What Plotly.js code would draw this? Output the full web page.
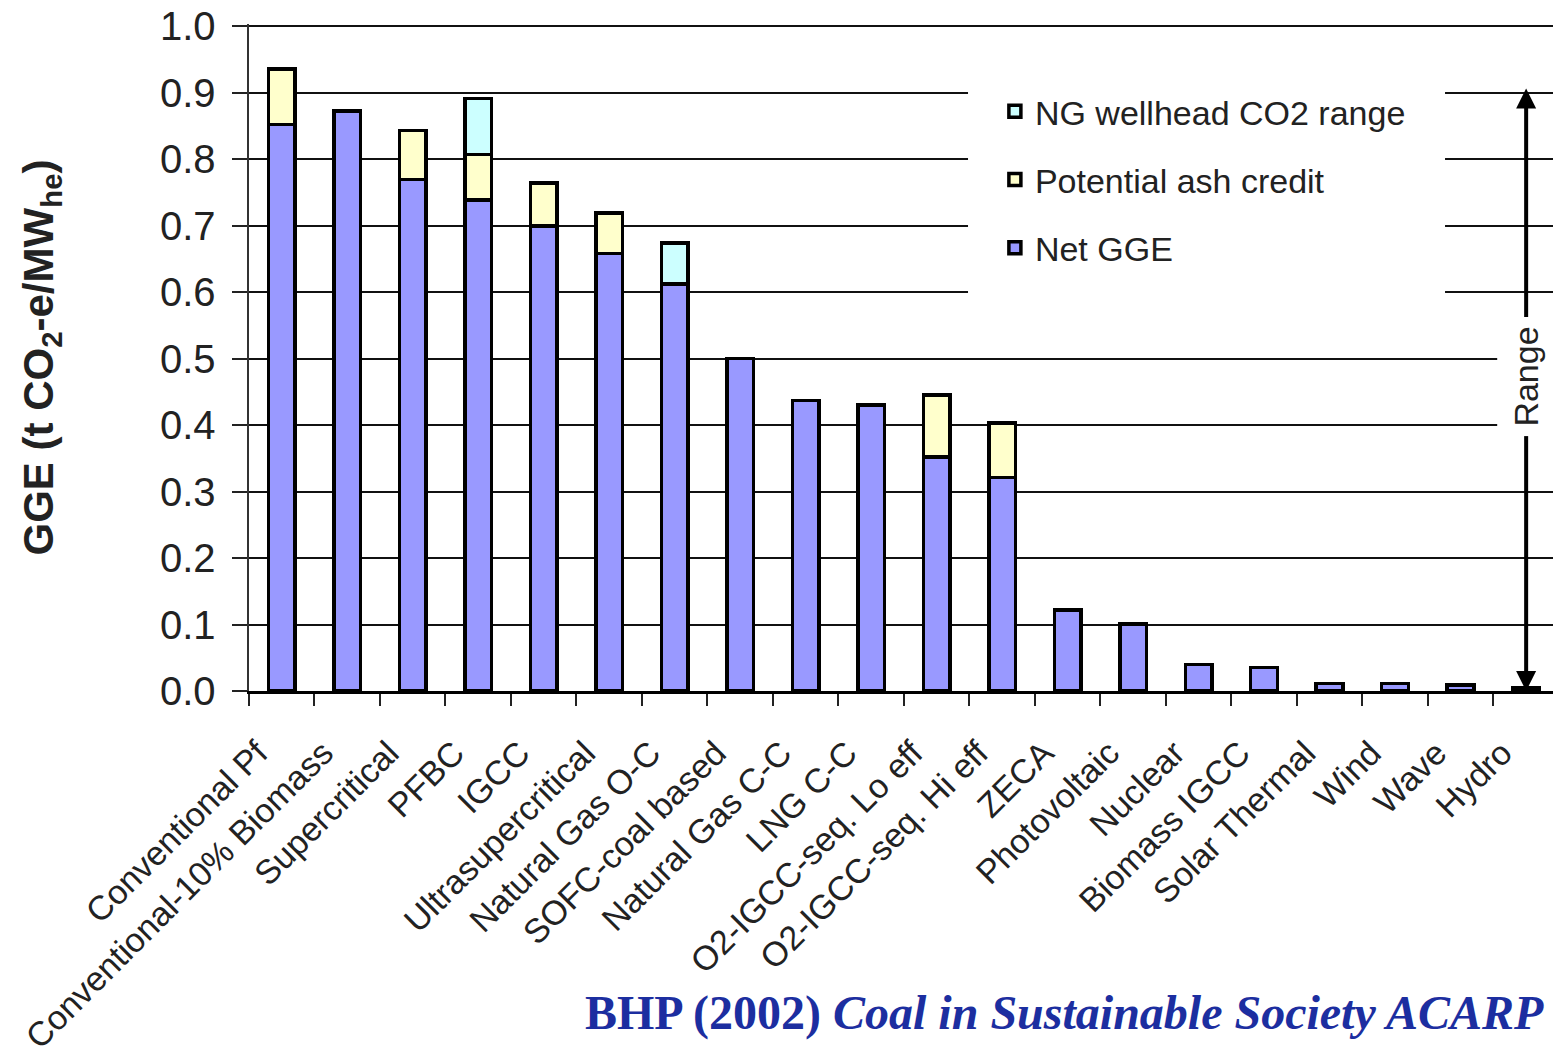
<!DOCTYPE html>
<html>
<head>
<meta charset="utf-8">
<script src="https://cdn.plot.ly/plotly-3.0.1.min.js"></script>
<style>html,body{margin:0;padding:0;background:#fff;}#chart{width:1553px;height:1055px;}</style>
</head>
<body>
<div id="chart"></div>
<script>
const categories = ["Conventional Pf","Conventional-10% Biomass","Supercritical","PFBC","IGCC","Ultrasupercritical","Natural Gas O-C","SOFC-coal based","Natural Gas C-C","LNG C-C","O2-IGCC-seq. Lo eff","O2-IGCC-seq. Hi eff","ZECA","Photovoltaic","Nuclear","Biomass IGCC","Solar Thermal","Wind","Wave","Hydro"];
const netGGE = [0.852,0.872,0.769,0.738,0.699,0.658,0.612,0.500,0.437,0.430,0.352,0.321,0.122,0.101,0.040,0.035,0.011,0.011,0.009,0.005];
const ashCredit = [0.083,null,0.074,0.069,0.065,0.061,null,null,null,null,0.093,0.082,null,null,null,null,null,null,null,null];
const ngRange = [null,null,null,0.084,null,null,0.062,null,null,null,null,null,null,null,null,null,null,null,null,null];
const yTicks = [0,0.1,0.2,0.3,0.4,0.5,0.6,0.7,0.8,0.9,1.0];
const yTickText = ["0.0","0.1","0.2","0.3","0.4","0.5","0.6","0.7","0.8","0.9","1.0"];
const rangeTop = 0.906, rangeMid = 0.473;

const FONT = "Liberation Sans, Arial, sans-serif";
const line = {color:"#000", width:3.5};
const traces = [
  {type:"bar", name:"Net GGE", x:categories, y:netGGE, marker:{color:"#9999ff", line:line}, width:0.41, legendgroup:"a", legendrank:3},
  {type:"bar", name:"Potential ash credit", x:categories, y:ashCredit, marker:{color:"#ffffcc", line:line}, width:0.41, legendgroup:"b", legendrank:2},
  {type:"bar", name:"NG wellhead CO2 range", x:categories, y:ngRange, marker:{color:"#ccffff", line:line}, width:0.41, legendgroup:"c", legendrank:1}
];
const layout = {
  width:1553, height:1055,
  margin:{l:249, r:0, t:24, b:364},
  paper_bgcolor:"#fff", plot_bgcolor:"#fff",
  barmode:"stack",
  showlegend:true,
  font:{family:FONT, color:"#222"},
  xaxis:{
    type:"category", range:[-0.5,19.41], fixedrange:true,
    showline:true, linecolor:"#000", linewidth:2.5,
    ticks:"outside", tickson:"boundaries", ticklen:12, tickwidth:2, tickcolor:"#222",
    tickangle:-45, tickfont:{size:34, family:FONT, color:"#222"},
    ticklabelstandoff:26, ticklabelshift:-24,
    showgrid:false
  },
  yaxis:{
    range:[0,1.003], fixedrange:true,
    tickmode:"array", tickvals:yTicks, ticktext:yTickText,
    ticks:"outside", ticklen:15, tickwidth:2, tickcolor:"#222",
    tickfont:{size:40, family:FONT, color:"#222"},
    ticklabelstandoff:8,
    showline:true, linecolor:"#333", linewidth:2.5,
    showgrid:true, gridcolor:"#111", gridwidth:2,
    zeroline:false,
    title:{text:"<b>GGE (t CO<sub>2</sub>-e/MW<sub>he</sub>)</b>", font:{size:42, family:FONT, color:"#222"}, standoff:93}
  },
  legend:{
    x:0.572, y:0.912, xanchor:"left", yanchor:"top",
    bgcolor:"#fff", borderwidth:0,
    traceorder:"grouped", tracegroupgap:21,
    font:{size:34, family:FONT, color:"#222"}
  },
  shapes:[
    {type:"rect", xref:"paper", yref:"paper", x0:0.5514, x1:0.9172, y0:0.586, y1:0.94, layer:"above", fillcolor:"#fff", line:{width:0}}
  ],
  annotations:[
    {x:19, y:0, xref:"x", yref:"y", ax:19, ay:rangeMid, axref:"x", ayref:"y", text:"", showarrow:true, arrowhead:2, arrowsize:1, arrowwidth:4, arrowcolor:"#000"},
    {x:19, y:rangeTop, xref:"x", yref:"y", ax:19, ay:rangeMid, axref:"x", ayref:"y", text:"Range", textangle:-90, showarrow:true, arrowhead:2, arrowsize:1, arrowwidth:4, arrowcolor:"#000", bgcolor:"#fff", borderpad:9, font:{size:34, family:FONT, color:"#222"}},
    {x:0.9945, y:-0.483, xref:"paper", yref:"paper", xanchor:"right", yanchor:"middle", showarrow:false,
     text:"<b>BHP (2002) <i>Coal in Sustainable Society ACARP</i></b>", font:{size:48, family:"Liberation Serif, Times New Roman, serif", color:"#1c2ea0"}}
  ]
};
Plotly.newPlot("chart", traces, layout, {displayModeBar:false, staticPlot:true});
</script>
</body>
</html>
